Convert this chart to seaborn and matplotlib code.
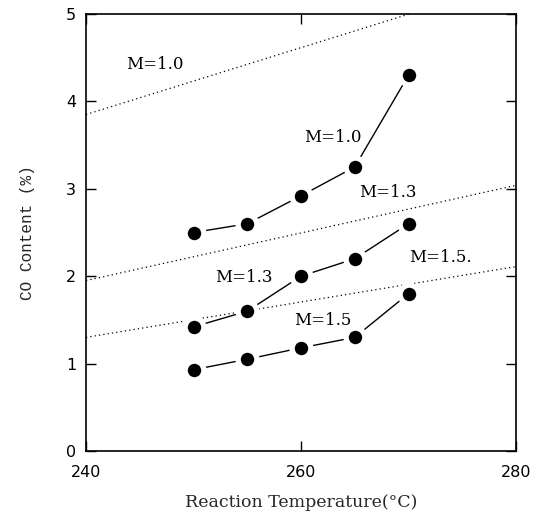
import matplotlib
matplotlib.use("Agg")
import matplotlib.pyplot as plt
import seaborn as sns
import pandas as pd

temps = [250, 255, 260, 265, 270]
co_m10 = [2.50, 2.60, 2.92, 3.25, 4.30]
co_m13 = [1.42, 1.60, 2.00, 2.20, 2.60]
co_m15 = [0.93, 1.05, 1.18, 1.30, 1.80]

eq_temps = [240, 280]
eq_m10 = [3.85, 5.38]
eq_m13 = [1.95, 3.04]
eq_m15 = [1.30, 2.11]

labels = ["M=1.0", "M=1.0", "M=1.3", "M=1.3", "M=1.5.", "M=1.5"]
label_x = [246.4, 263.0, 268.1, 254.7, 273.0, 262.0]
label_y = [4.42, 3.59, 2.96, 1.99, 2.21, 1.49]

sns.set_style("ticks")
fig = plt.figure(figsize=(5.39, 5.15), dpi=100)
ax = fig.add_axes([86/539, 1 - 451/515, 430/539, 437/515])

for eq in [eq_m10, eq_m13, eq_m15]:
    df = pd.DataFrame({"T": eq_temps, "CO": eq})
    sns.lineplot(data=df, x="T", y="CO", ax=ax, color="black", lw=0.9,
                 linestyle=(0, (1, 2.5)), errorbar=None)

for s in [co_m10, co_m13, co_m15]:
    df = pd.DataFrame({"T": temps, "CO": s})
    sns.lineplot(data=df, x="T", y="CO", ax=ax, color="black", lw=1.0,
                 marker="o", markersize=13.5, markerfacecolor="black",
                 markeredgecolor="white", markeredgewidth=3.8, errorbar=None)

for t, x, y in zip(labels, label_x, label_y):
    ax.text(x, y, t, ha="center", va="center", fontsize=12,
            family="DejaVu Serif", color="black")

ax.set_xlim(240, 280)
ax.set_ylim(0, 5)
ax.set_xticks([240, 260, 280])
ax.set_yticks([0, 1, 2, 3, 4, 5])
ax.tick_params(direction="in", length=7, width=1, labelsize=11.5,
               top=True, right=True, colors="black")
ax.tick_params(axis="x", pad=10)
ax.tick_params(axis="y", pad=7)
for lbl in ax.get_xticklabels() + ax.get_yticklabels():
    lbl.set_family("DejaVu Sans")
ax.set_xlabel("Reaction Temperature(\u00b0C)", fontsize=12.5,
              family="DejaVu Serif", labelpad=10)
ax.set_ylabel("CO Content (%)", fontsize=11.5, family="Liberation Mono",
              labelpad=22)
for sp in ax.spines.values():
    sp.set_linewidth(1.2)
    sp.set_color("black")

fig.savefig("out.png", dpi=100)
